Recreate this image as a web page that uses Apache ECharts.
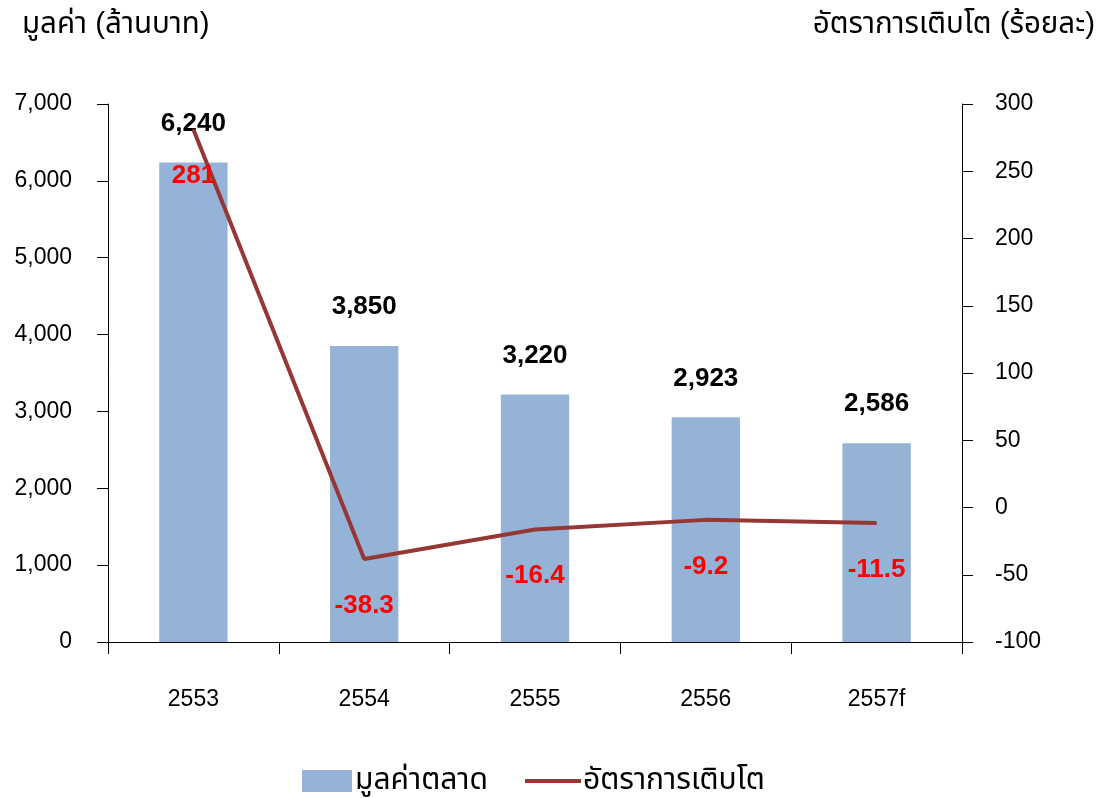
<!DOCTYPE html>
<html>
<head>
<meta charset="utf-8">
<script src="https://cdn.jsdelivr.net/npm/echarts@6/dist/echarts.min.js"></script>
<style>html,body{margin:0;padding:0;background:#fff}#c{width:1108px;height:798px}</style>
</head>
<body>
<div id="c"></div>
<script>
const categories = ['2553', '2554', '2555', '2556', '2557f'];
const marketValue = [6240, 3850, 3220, 2923, 2586];
const growthRate = [281, -38.3, -16.4, -9.2, -11.5];
const leftTicks = { min: 0, max: 7000, interval: 1000 };
const rightTicks = { min: -100, max: 300, interval: 50 };
const seriesNames = ['มูลค่าตลาด', 'อัตราการเติบโต'];
const leftAxisTitle = 'มูลค่า (ล้านบาท)';
const rightAxisTitle = 'อัตราการเติบโต (ร้อยละ)';

const FONT = '"Liberation Sans", Arial, "Noto Sans Thai", "Noto Sans", sans-serif';
const chart = echarts.init(document.getElementById('c'), null, { renderer: 'canvas' });
chart.setOption({
  backgroundColor: '#fff',
  animation: false,
  textStyle: { fontFamily: FONT },
  title: [
    { text: leftAxisTitle, left: 17, top: 5, textStyle: { fontFamily: FONT, fontSize: 29.5, fontWeight: 'normal', color: '#000' } },
    { text: rightAxisTitle, right: 8, top: 5, textStyle: { fontFamily: FONT, fontSize: 29.5, fontWeight: 'normal', color: '#000' } }
  ],
  grid: { left: 108, right: 146, top: 104, bottom: 156, containLabel: false },
  legend: [
    { data: [seriesNames[0]], left: 297, top: 761, itemWidth: 50, itemHeight: 22, icon: 'rect', itemGap: 0,
      textStyle: { fontFamily: FONT, fontSize: 30, color: '#000', padding: [0, 0, 0, -2] } },
    { data: [seriesNames[1]], left: 520, top: 761, itemWidth: 56, itemHeight: 4, icon: 'rect', itemGap: 0,
      textStyle: { fontFamily: FONT, fontSize: 30, color: '#000', padding: [0, 0, 0, -3] } }
  ],
  xAxis: {
    type: 'category', data: categories, boundaryGap: true,
    axisLine: { lineStyle: { color: '#000', width: 1 } },
    axisTick: { show: true, length: 12, alignWithLabel: false, lineStyle: { color: '#000' } },
    axisLabel: { margin: 46, fontSize: 23, color: '#000', fontFamily: FONT },
    splitLine: { show: false }
  },
  yAxis: [
    { type: 'value', min: leftTicks.min, max: leftTicks.max, interval: leftTicks.interval, position: 'left',
      axisLine: { show: true, lineStyle: { color: '#000' } },
      axisTick: { show: true, length: 11, lineStyle: { color: '#000' } },
      axisLabel: { margin: 36, fontSize: 23, color: '#000', fontFamily: FONT,
        formatter: v => v.toLocaleString('en-US') },
      splitLine: { show: false } },
    { type: 'value', min: rightTicks.min, max: rightTicks.max, interval: rightTicks.interval, position: 'right',
      axisLine: { show: true, lineStyle: { color: '#000' } },
      axisTick: { show: true, length: 11, lineStyle: { color: '#000' } },
      axisLabel: { margin: 33, fontSize: 23, color: '#000', fontFamily: FONT },
      splitLine: { show: false } }
  ],
  series: [
    { name: seriesNames[0], type: 'bar', data: marketValue, yAxisIndex: 0, barWidth: '40%',
      itemStyle: { color: '#95B3D7' },
      label: { show: true, position: 'top', distance: 26, fontSize: 26, fontWeight: 'bold', color: '#000', fontFamily: FONT,
        formatter: p => p.value.toLocaleString('en-US') } },
    { name: seriesNames[1], type: 'line', data: growthRate, yAxisIndex: 1,
      symbol: 'circle', symbolSize: 1, showSymbol: true,
      lineStyle: { color: '#953735', width: 4 }, itemStyle: { color: '#953735' },
      label: { show: true, position: 'bottom', distance: 33, fontSize: 26, fontWeight: 'bold', color: '#FF0000', fontFamily: FONT },
      z: 5 }
  ]
});
</script>
</body>
</html>
